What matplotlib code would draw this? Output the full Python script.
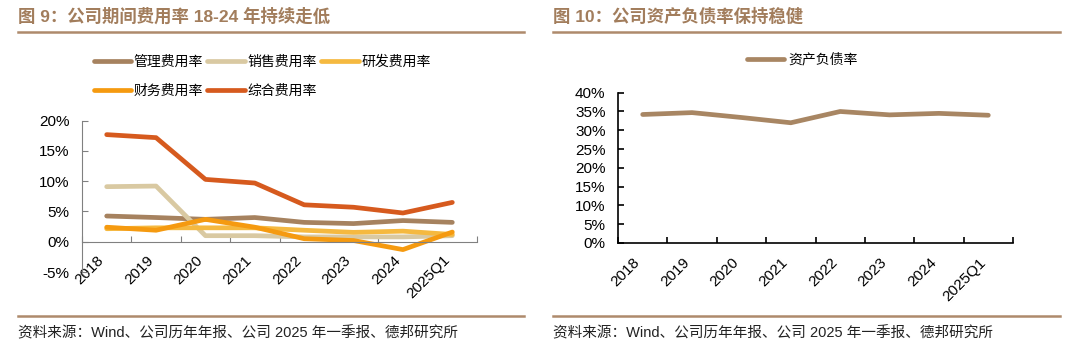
import numpy as np
import matplotlib.pyplot as plt
from matplotlib.ticker import FuncFormatter

plt.rcParams['font.family'] = ['Liberation Sans', 'Noto Sans CJK SC', 'DejaVu Sans']

# 数据
years = ['2018', '2019', '2020', '2021', '2022', '2023', '2024', '2025Q1']
mgmt = [4.25, 4.0, 3.7, 4.0, 3.2, 3.0, 3.5, 3.2]        # 管理费用率
sales = [9.1, 9.2, 1.0, 1.0, 0.8, 0.8, 0.8, 1.0]        # 销售费用率
rnd = [2.15, 2.3, 2.3, 2.3, 1.9, 1.55, 1.75, 1.2]       # 研发费用率
fin = [2.4, 1.9, 3.7, 2.4, 0.5, 0.2, -1.3, 1.6]         # 财务费用率
total = [17.7, 17.2, 10.3, 9.7, 6.1, 5.7, 4.75, 6.5]    # 综合费用率
debt = [34.2, 34.7, 33.4, 32.0, 35.0, 34.1, 34.5, 34.0]  # 资产负债率

series = [('管理费用率', mgmt, '#a6825f'),
          ('销售费用率', sales, '#d9c9a2'),
          ('研发费用率', rnd, '#f5b940'),
          ('财务费用率', fin, '#f59a10'),
          ('综合费用率', total, '#d65a1e')]

W, H = 1080, 359
fig = plt.figure(figsize=(W / 100, H / 100), dpi=100)

title_c = '#a27d5c'
rule_c = '#ae8a6c'
LW = 3.4


def px_axes(x0, y_top, x1, y_bot):
    return fig.add_axes([x0 / W, 1 - y_bot / H, (x1 - x0) / W, (y_bot - y_top) / H])


def hline(x0, x1, y):
    fig.add_artist(plt.Line2D([x0 / W, x1 / W], [1 - y / H, 1 - y / H],
                              color=rule_c, lw=1.8))


def style_axes(ax, spine_c, spine_w, pad_x):
    x = np.arange(len(years))
    for s in ['top', 'right']:
        ax.spines[s].set_visible(False)
    for s in ['left', 'bottom']:
        ax.spines[s].set_color(spine_c)
        ax.spines[s].set_linewidth(spine_w)
    ax.set_xlim(-0.5, len(years) - 0.5)
    ax.set_xticks(x)
    ax.set_xticklabels(years, rotation=45, ha='right', fontsize=11)
    ax.set_xticks(np.arange(len(years) + 1) - 0.5, minor=True)
    ax.tick_params(axis='x', which='major', length=0, pad=pad_x)
    ax.tick_params(axis='x', which='minor', direction='in', length=4,
                   color=spine_c, width=spine_w)
    ax.tick_params(axis='y', direction='in', length=4, color=spine_c,
                   width=spine_w, labelsize=11, pad=9)
    ax.yaxis.set_major_formatter(FuncFormatter(lambda v, p: f'{v:.0f}%'))


# 左图
ax1 = px_axes(82, 120.7, 477, 272)
x = np.arange(len(years))
lines = {}
for name, vals, c in series:
    lines[name], = ax1.plot(x, vals, color=c, lw=LW, label=name, solid_capstyle='round')
ax1.set_ylim(-5, 20)
ax1.set_yticks([-5, 0, 5, 10, 15, 20])
ax1.spines['bottom'].set_position(('data', 0))
style_axes(ax1, '#808080', 0.8, 8)

order = ['管理费用率', '财务费用率', '销售费用率', '综合费用率', '研发费用率']
fig.legend([lines[n] for n in order], order, ncol=3, frameon=False,
           loc='upper left', bbox_to_anchor=(88 / W, 1 - 49 / H),
           fontsize=10, handlelength=2.7, handletextpad=0.2,
           columnspacing=0.3, labelspacing=1.1, borderaxespad=0)

# 右图
ax2 = px_axes(618, 92.7, 1013, 243)
ln2, = ax2.plot(x, debt, color='#a88663', lw=LW, solid_capstyle='round')
ax2.set_ylim(0, 40)
ax2.set_yticks(np.arange(0, 41, 5))
style_axes(ax2, 'black', 1.2, 9)
fig.legend([ln2], ['资产负债率'], loc='upper left',
           bbox_to_anchor=(741 / W, 1 - 47 / H), frameon=False,
           fontsize=10, handlelength=2.7, handletextpad=0.3, borderaxespad=0)

# 标题、分隔线、来源
fig.text(18 / W, 1 - 16 / H, '图 9：公司期间费用率 18-24 年持续走低', fontsize=12.5,
         fontweight='bold', color=title_c, va='center', ha='left')
fig.text(553 / W, 1 - 16 / H, '图 10：公司资产负债率保持稳健', fontsize=12.5,
         fontweight='bold', color=title_c, va='center', ha='left')
hline(18, 524, 31.5)
hline(553, 1060, 31.5)
hline(18, 524, 315.5)
hline(553, 1060, 315.5)
src = '资料来源：Wind、公司历年年报、公司 2025 年一季报、德邦研究所'
fig.text(18 / W, 1 - 333 / H, src, fontsize=10.5, color='#222222', va='center')
fig.text(553 / W, 1 - 333 / H, src, fontsize=10.5, color='#222222', va='center')

fig.savefig('out.png', dpi=100)
